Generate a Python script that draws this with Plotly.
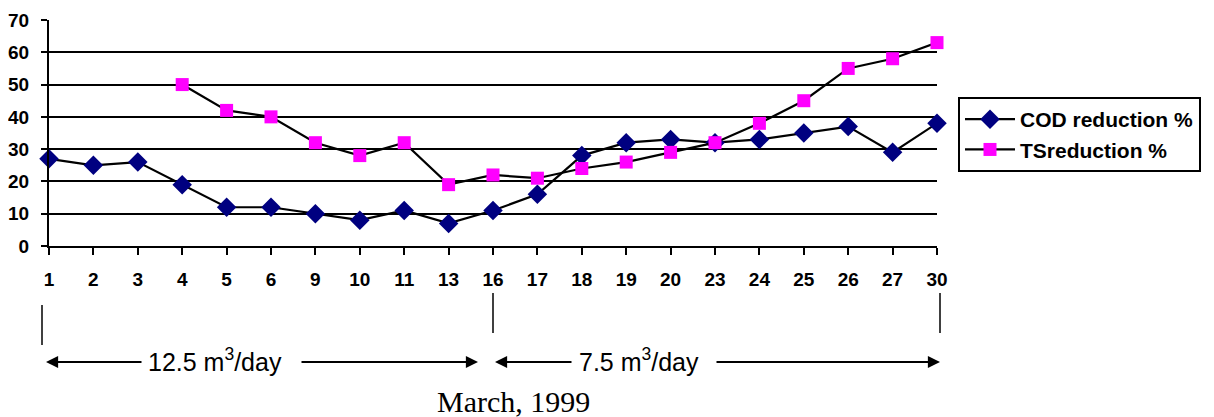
import plotly.graph_objects as go

days = ["1", "2", "3", "4", "5", "6", "9", "10", "11", "13", "16", "17", "18", "19", "20", "23", "24", "25", "26", "27", "30"]
cod = [27, 25, 26, 19, 12, 12, 10, 8, 11, 7, 11, 16, 28, 32, 33, 32, 33, 35, 37, 29, 38]
ts = [None, None, None, 50, 42, 40, 32, 28, 32, 19, 22, 21, 24, 26, 29, 32, 38, 45, 55, 58, 63]

OFF = 8  # page body margin
W, H = 1214 - OFF, 417 - OFF
L, R, T, B = 49, 937, 20, 246  # plot area in page pixels

def px(x):
    return (x - L) / (R - L)

def py(y):
    return (B - y) / (B - T)

fig = go.Figure()
fig.add_trace(go.Scatter(x=days, y=cod, mode="lines+markers", name="COD reduction %",
                         legendgroup="a",
                         line=dict(color="black", width=2.2),
                         marker=dict(symbol="diamond", size=15, color="#000080"),
                         cliponaxis=False))
fig.add_trace(go.Scatter(x=days, y=ts, mode="lines+markers", name="TSreduction %",
                         legendgroup="b",
                         line=dict(color="black", width=2.2),
                         marker=dict(symbol="square", size=13, color="#FF00FF"),
                         cliponaxis=False, connectgaps=False))

tickfont = dict(family="Liberation Sans, Arial", size=19, color="black", weight="bold")

fig.update_layout(
    width=W, height=H,
    margin=dict(l=L - OFF, r=W - (R - OFF), t=T - OFF, b=H - (B - OFF)),
    paper_bgcolor="white", plot_bgcolor="white",
    font=dict(family="Liberation Sans, Arial", color="black"),
    showlegend=True,
    legend=dict(x=px(958), y=py(97), xanchor="left", yanchor="top",
                bordercolor="black", borderwidth=2, bgcolor="white",
                font=dict(family="Liberation Sans, Arial", size=21, color="black", weight="bold"),
                tracegroupgap=0, itemwidth=50),
    xaxis=dict(type="category", range=[0, len(days) - 1], showgrid=False,
               showline=True, linecolor="black", linewidth=2,
               ticks="outside", ticklen=7, tickwidth=2, tickcolor="black",
               tickfont=tickfont, ticklabelstandoff=8, automargin=False,
               zeroline=False, fixedrange=True),
    yaxis=dict(range=[0, 70], dtick=10, showgrid=True, gridcolor="black", gridwidth=2,
               showline=True, linecolor="black", linewidth=2,
               ticks="outside", ticklen=6, tickwidth=2, tickcolor="black",
               tickfont=tickfont, ticklabelstandoff=8, automargin=False,
               zeroline=False, fixedrange=True),
)

# vertical boundary lines below the axis
for x0, y0, y1 in [(42, 305, 345), (493, 293, 333), (940, 293, 333)]:
    fig.add_shape(type="line", xref="paper", yref="paper",
                  x0=px(x0), x1=px(x0), y0=py(y0), y1=py(y1),
                  line=dict(color="black", width=1.5))

# arrows
arrow_y = 362
for head, tail in [(46, 143), (478, 300), (495, 573), (940, 715)]:
    fig.add_annotation(xref="paper", yref="paper", x=px(head), y=py(arrow_y),
                       ax=tail - head, ay=0, axref="pixel", ayref="pixel",
                       showarrow=True, arrowhead=2, arrowsize=1.1, arrowwidth=2.2,
                       arrowcolor="black", text="")

txtfont = dict(family="Liberation Sans, Arial", size=25, color="black")
fig.add_annotation(xref="paper", yref="paper", x=px(215), y=py(arrow_y - 2), text="12.5 m<sup>3</sup>/day",
                   showarrow=False, font=txtfont, xanchor="center", yanchor="middle")
fig.add_annotation(xref="paper", yref="paper", x=px(639), y=py(arrow_y - 2), text="7.5 m<sup>3</sup>/day",
                   showarrow=False, font=txtfont, xanchor="center", yanchor="middle")
fig.add_annotation(xref="paper", yref="paper", x=px(513), y=py(401), text="March, 1999",
                   showarrow=False, font=dict(family="Liberation Serif, Times New Roman", size=30, color="black"),
                   xanchor="center", yanchor="middle")

fig.write_html("out.html")
